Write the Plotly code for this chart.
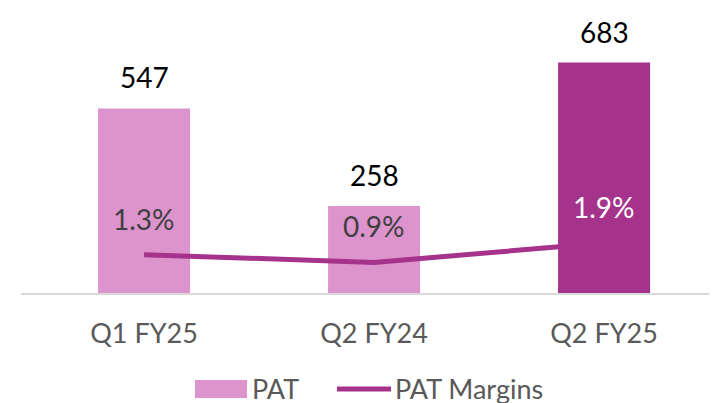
import plotly.graph_objects as go

# data
quarters = ["Q1 FY25", "Q2 FY24", "Q2 FY25"]
pat = [547, 258, 683]
pat_margin = [1.3, 0.9, 1.9]  # percent

LIGHT = "#DD94CD"
DARK = "#A5338C"
FONT = "Lato"

bar_colors = [LIGHT, LIGHT, DARK]
margin_text_colors = ["#404040", "#404040", "#FFFFFF"]

fig = go.Figure()

fig.add_trace(
    go.Bar(
        x=quarters,
        y=pat,
        marker=dict(color=bar_colors, line=dict(width=0)),
        width=0.4,
        name="PAT",
        showlegend=False,
        yaxis="y",
    )
)

fig.add_trace(
    go.Scatter(
        x=quarters,
        y=pat_margin,
        mode="lines",
        line=dict(color=DARK, width=5),
        name="PAT Margins",
        showlegend=False,
        yaxis="y2",
    )
)

annotations = []
# value labels above bars
for q, v in zip(quarters, pat):
    annotations.append(dict(
        x=q, y=v, xref="x", yref="y", text=str(v), showarrow=False,
        yshift=31, font=dict(family=FONT, size=28, color="#000000"),
    ))
# margin labels above line points
for q, m, c in zip(quarters, pat_margin, margin_text_colors):
    annotations.append(dict(
        x=q, y=m, xref="x", yref="y2", text=f"{m}%", showarrow=False,
        yshift=36, font=dict(family=FONT, size=28, color=c),
    ))

# legend drawn by hand so the swatches match the reference
annotations += [
    dict(x=(250 - 21) / 696, y=(293 - 388) / 273, xref="paper", yref="paper",
         text="PAT", showarrow=False, xanchor="left", yanchor="middle",
         font=dict(family=FONT, size=27, color="#595959")),
    dict(x=(393 - 21) / 696, y=(293 - 388) / 273, xref="paper", yref="paper",
         text="PAT Margins", showarrow=False, xanchor="left", yanchor="middle",
         font=dict(family=FONT, size=27, color="#595959")),
]

shapes = [
    dict(type="rect", xref="paper", yref="paper",
         x0=(195 - 21) / 696, x1=(247 - 21) / 696,
         y0=(293 - 398) / 273, y1=(293 - 380) / 273,
         fillcolor=LIGHT, line=dict(width=0)),
    dict(type="line", xref="paper", yref="paper",
         x0=(337 - 21) / 696, x1=(391 - 21) / 696,
         y0=(293 - 389) / 273, y1=(293 - 389) / 273,
         line=dict(color=DARK, width=5)),
]

# page body has an 8px margin, so the figure is sized/offset to compensate
fig.update_layout(
    width=709,
    height=395,
    margin=dict(l=13, r=0, t=12, b=110),
    paper_bgcolor="white",
    plot_bgcolor="white",
    showlegend=False,
    annotations=annotations,
    shapes=shapes,
    xaxis=dict(
        type="category",
        range=[-0.535, 2.491],
        showline=True,
        linecolor="#D9D9D9",
        linewidth=2,
        showgrid=False,
        ticks="",
        ticklabelstandoff=16,
        tickfont=dict(family=FONT, size=27, color="#595959"),
    ),
    yaxis=dict(range=[0, 809], visible=False),
    yaxis2=dict(range=[-0.667, 13.33], overlaying="y", visible=False),
)

fig.write_html("out.html")
